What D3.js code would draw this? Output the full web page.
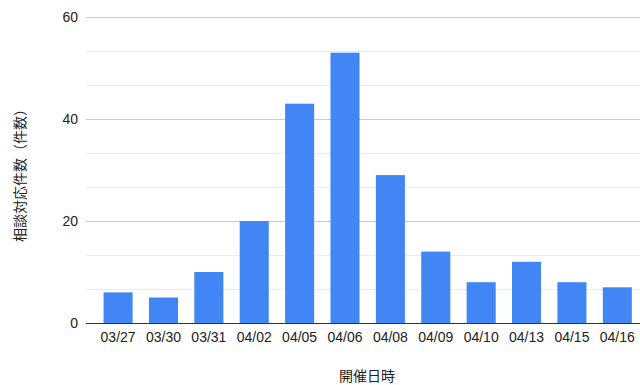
<!DOCTYPE html>
<html>
<head>
<meta charset="utf-8">
<script src="https://cdn.jsdelivr.net/npm/d3@7"></script>
<style>
  html, body { margin: 0; padding: 0; background: #fff; }
  svg { display: block; }
  text { font-family: "Liberation Sans", Arial, sans-serif; fill: #222; }
  .cjk { font-family: "Noto Sans CJK JP", sans-serif; }
</style>
</head>
<body>
<svg id="chart" width="640" height="385"></svg>
<script>
// Consultation counts per session date
const dates = ["03/27", "03/30", "03/31", "04/02", "04/05", "04/06", "04/08", "04/09", "04/10", "04/13", "04/15", "04/16"];
const counts = [6, 5, 10, 20, 43, 53, 29, 14, 8, 12, 8, 7];
const yTicks = [0, 20, 40, 60];
const xTitle = "開催日時";
const yTitle = "相談対応件数（件数）";

const svg = d3.select("#chart");
const plot = { left: 86, right: 640, top: 17, bottom: 323 };

const x = d3.scaleBand()
  .domain(dates)
  .range([95.4, 640])
  .paddingInner(0.36)
  .paddingOuter(0.18);

const y = d3.scaleLinear()
  .domain([0, 60])
  .range([plot.bottom, plot.top]);

// Minor gridlines: three divisions between labelled ticks
const minor = d3.range(0, 60.001, 20 / 3).filter(v => !yTicks.some(t => Math.abs(t - v) < 1e-6));
svg.append("g").selectAll("line").data(minor).join("line")
  .attr("x1", plot.left).attr("x2", plot.right)
  .attr("y1", d => Math.round(y(d)) + 0.5).attr("y2", d => Math.round(y(d)) + 0.5)
  .attr("stroke", "#ebebeb").attr("stroke-width", 1);

// Major gridlines
svg.append("g").selectAll("line").data(yTicks.filter(d => d !== 0)).join("line")
  .attr("x1", plot.left).attr("x2", plot.right)
  .attr("y1", d => Math.round(y(d)) + 0.5).attr("y2", d => Math.round(y(d)) + 0.5)
  .attr("stroke", "#cccccc").attr("stroke-width", 1);

// Bars
svg.append("g").selectAll("rect").data(counts).join("rect")
  .attr("x", (d, i) => x(dates[i]))
  .attr("width", x.bandwidth())
  .attr("y", d => y(d))
  .attr("height", d => y(0) - y(d))
  .attr("fill", "#4285f4");

// Baseline
svg.append("line")
  .attr("x1", plot.left).attr("x2", plot.right)
  .attr("y1", Math.round(y(0)) + 0.5).attr("y2", Math.round(y(0)) + 0.5)
  .attr("stroke", "#333").attr("stroke-width", 1);

// Y axis labels
const yAxis = d3.axisLeft(y).tickValues(yTicks).tickSize(0).tickPadding(0);
svg.append("g")
  .attr("transform", `translate(78,0)`)
  .call(yAxis)
  .call(g => g.select(".domain").remove())
  .call(g => g.selectAll("text").attr("font-size", 14).attr("fill", "#222")
    .attr("font-family", "'Liberation Sans', Arial, sans-serif"));

// X axis labels
const xAxis = d3.axisBottom(x).tickSize(0).tickPadding(0);
svg.append("g")
  .attr("transform", `translate(0,332)`)
  .call(xAxis)
  .call(g => g.select(".domain").remove())
  .call(g => g.selectAll("text").attr("font-size", 14).attr("fill", "#222")
    .attr("font-family", "'Liberation Sans', Arial, sans-serif"));

// Axis titles
svg.append("text").attr("class", "cjk")
  .attr("x", 367).attr("y", 381)
  .attr("text-anchor", "middle")
  .attr("font-size", 14)
  .text(xTitle);

svg.append("text").attr("class", "cjk")
  .attr("transform", "translate(25,172) rotate(-90)")
  .attr("text-anchor", "middle")
  .attr("font-size", 14)
  .text(yTitle);
</script>
</body>
</html>
